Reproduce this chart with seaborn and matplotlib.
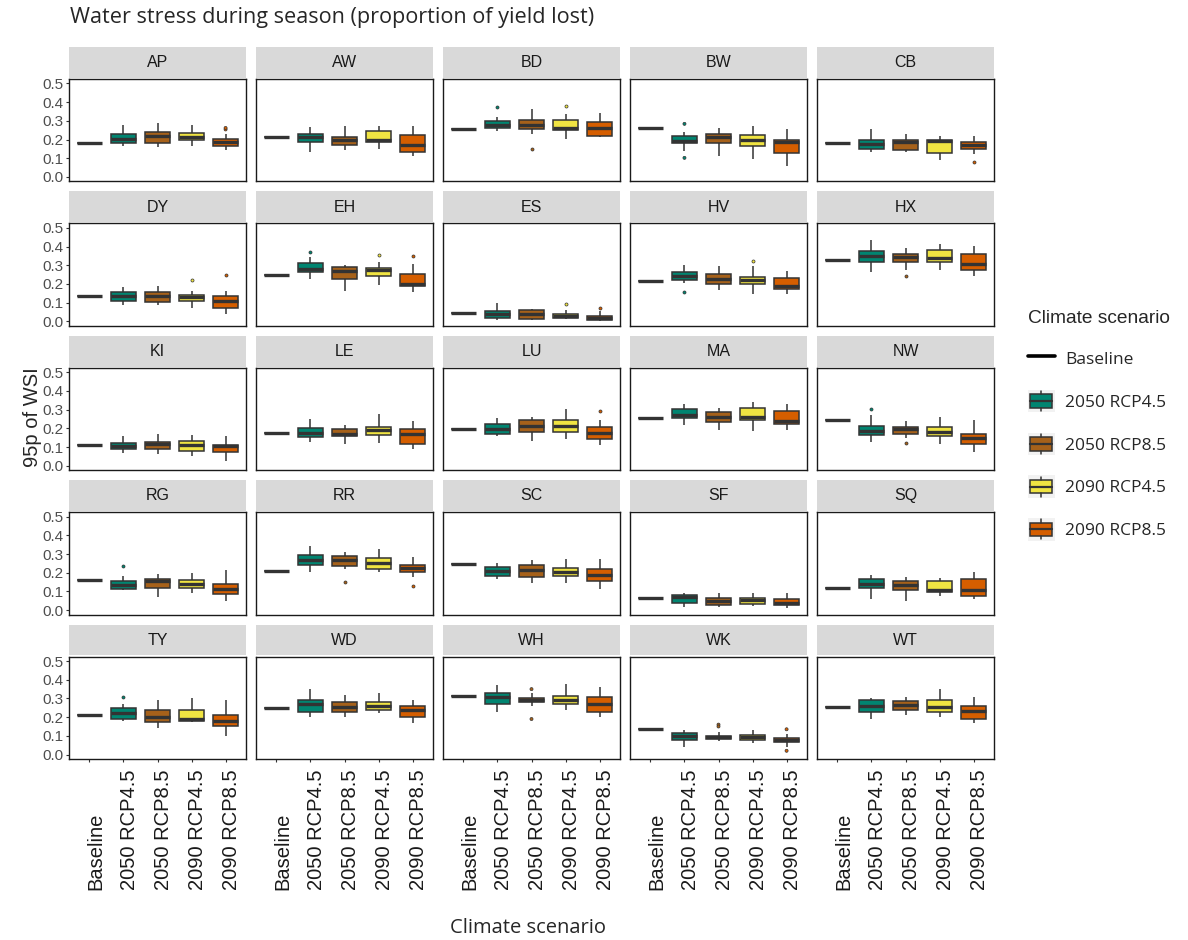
import numpy as np
import pandas as pd
import matplotlib
matplotlib.use('Agg')
import matplotlib.pyplot as plt
import seaborn as sns
from matplotlib.patches import Rectangle, Patch
from matplotlib.lines import Line2D
from matplotlib.legend_handler import HandlerBase
from matplotlib.transforms import ScaledTranslation

# ---- data: 95th percentile of WSI per site and climate scenario ----
sites = ['AP', 'AW', 'BD', 'BW', 'CB',
         'DY', 'EH', 'ES', 'HV', 'HX',
         'KI', 'LE', 'LU', 'MA', 'NW',
         'RG', 'RR', 'SC', 'SF', 'SQ',
         'TY', 'WD', 'WH', 'WK', 'WT']
scenarios = ['Baseline', '2050 RCP4.5', '2050 RCP8.5', '2090 RCP4.5', '2090 RCP8.5']
colors = ['#FFFFFF', '#018571', '#A6611A', '#F0E442', '#D55E00']

baseline = [0.182, 0.211, 0.254, 0.263, 0.179,
            0.137, 0.249, 0.045, 0.217, 0.327,
            0.112, 0.174, 0.196, 0.253, 0.242,
            0.160, 0.208, 0.249, 0.064, 0.116,
            0.212, 0.250, 0.315, 0.135, 0.255]

# (lower whisker, q1, median, q3, upper whisker)
rcp45_2050 = [(0.164, 0.184, 0.202, 0.227, 0.277), (0.132, 0.188, 0.211, 0.232, 0.268),
              (0.246, 0.264, 0.277, 0.300, 0.321), (0.138, 0.180, 0.191, 0.220, 0.238),
              (0.136, 0.148, 0.175, 0.198, 0.254),
              (0.085, 0.110, 0.133, 0.157, 0.183), (0.228, 0.263, 0.281, 0.311, 0.343),
              (0.009, 0.018, 0.040, 0.055, 0.100), (0.205, 0.221, 0.240, 0.262, 0.299),
              (0.263, 0.319, 0.347, 0.374, 0.436),
              (0.068, 0.089, 0.108, 0.121, 0.160), (0.125, 0.153, 0.174, 0.203, 0.249),
              (0.160, 0.169, 0.198, 0.224, 0.254), (0.219, 0.258, 0.272, 0.306, 0.331),
              (0.125, 0.164, 0.187, 0.215, 0.272),
              (0.107, 0.112, 0.137, 0.155, 0.181), (0.205, 0.240, 0.270, 0.294, 0.343),
              (0.165, 0.183, 0.210, 0.231, 0.254), (0.018, 0.036, 0.068, 0.080, 0.094),
              (0.062, 0.117, 0.142, 0.165, 0.187),
              (0.180, 0.190, 0.220, 0.250, 0.270), (0.200, 0.230, 0.270, 0.290, 0.350),
              (0.230, 0.270, 0.310, 0.330, 0.370), (0.040, 0.080, 0.100, 0.115, 0.130),
              (0.190, 0.230, 0.260, 0.290, 0.300)]
rcp85_2050 = [(0.161, 0.179, 0.220, 0.241, 0.286), (0.143, 0.173, 0.200, 0.214, 0.271),
              (0.232, 0.255, 0.277, 0.307, 0.366), (0.111, 0.179, 0.211, 0.230, 0.264),
              (0.136, 0.146, 0.186, 0.198, 0.227),
              (0.085, 0.103, 0.133, 0.157, 0.190), (0.162, 0.228, 0.269, 0.290, 0.304),
              (0.005, 0.014, 0.041, 0.059, 0.064), (0.169, 0.201, 0.228, 0.251, 0.294),
              (0.276, 0.317, 0.343, 0.361, 0.393),
              (0.062, 0.089, 0.117, 0.128, 0.169), (0.116, 0.157, 0.171, 0.196, 0.219),
              (0.130, 0.183, 0.215, 0.246, 0.260), (0.189, 0.235, 0.260, 0.290, 0.311),
              (0.148, 0.171, 0.196, 0.206, 0.240),
              (0.071, 0.119, 0.155, 0.169, 0.192), (0.222, 0.237, 0.270, 0.288, 0.311),
              (0.146, 0.178, 0.214, 0.244, 0.270), (0.018, 0.027, 0.050, 0.066, 0.089),
              (0.050, 0.107, 0.137, 0.155, 0.178),
              (0.140, 0.175, 0.200, 0.240, 0.290), (0.200, 0.230, 0.255, 0.280, 0.320),
              (0.260, 0.280, 0.290, 0.305, 0.330), (0.070, 0.085, 0.095, 0.100, 0.120),
              (0.210, 0.240, 0.265, 0.285, 0.310)]
rcp45_2090 = [(0.164, 0.196, 0.214, 0.234, 0.277), (0.148, 0.188, 0.200, 0.246, 0.275),
              (0.204, 0.250, 0.264, 0.307, 0.336), (0.098, 0.168, 0.196, 0.225, 0.270),
              (0.093, 0.130, 0.191, 0.200, 0.220),
              (0.071, 0.107, 0.130, 0.139, 0.160), (0.196, 0.244, 0.272, 0.285, 0.319),
              (0.011, 0.018, 0.027, 0.037, 0.059), (0.148, 0.198, 0.222, 0.237, 0.294),
              (0.272, 0.317, 0.338, 0.383, 0.415),
              (0.050, 0.080, 0.112, 0.133, 0.162), (0.121, 0.165, 0.192, 0.206, 0.278),
              (0.142, 0.180, 0.210, 0.246, 0.304), (0.185, 0.242, 0.260, 0.310, 0.340),
              (0.117, 0.157, 0.183, 0.205, 0.260),
              (0.093, 0.119, 0.142, 0.160, 0.199), (0.205, 0.222, 0.253, 0.281, 0.327),
              (0.146, 0.181, 0.205, 0.228, 0.276), (0.021, 0.032, 0.053, 0.066, 0.089),
              (0.075, 0.096, 0.110, 0.155, 0.174),
              (0.175, 0.180, 0.190, 0.240, 0.300), (0.220, 0.240, 0.260, 0.280, 0.330),
              (0.240, 0.270, 0.290, 0.315, 0.380), (0.060, 0.080, 0.095, 0.105, 0.130),
              (0.200, 0.230, 0.255, 0.290, 0.350)]
rcp85_2090 = [(0.143, 0.168, 0.188, 0.202, 0.229), (0.111, 0.134, 0.173, 0.223, 0.275),
              (0.211, 0.221, 0.261, 0.295, 0.343), (0.059, 0.130, 0.188, 0.200, 0.257),
              (0.125, 0.148, 0.172, 0.186, 0.220),
              (0.041, 0.073, 0.107, 0.137, 0.162), (0.157, 0.187, 0.201, 0.251, 0.308),
              (0.003, 0.005, 0.018, 0.028, 0.055), (0.144, 0.173, 0.187, 0.231, 0.269),
              (0.242, 0.276, 0.308, 0.361, 0.404),
              (0.023, 0.071, 0.103, 0.112, 0.157), (0.091, 0.116, 0.171, 0.199, 0.237),
              (0.109, 0.144, 0.174, 0.205, 0.242), (0.192, 0.222, 0.237, 0.295, 0.331),
              (0.073, 0.117, 0.148, 0.171, 0.242),
              (0.050, 0.085, 0.112, 0.142, 0.214), (0.178, 0.205, 0.228, 0.244, 0.285),
              (0.112, 0.155, 0.190, 0.222, 0.276), (0.012, 0.027, 0.039, 0.060, 0.089),
              (0.059, 0.077, 0.110, 0.169, 0.205),
              (0.100, 0.150, 0.180, 0.210, 0.290), (0.170, 0.200, 0.240, 0.260, 0.290),
              (0.200, 0.230, 0.270, 0.310, 0.360), (0.040, 0.065, 0.080, 0.090, 0.110),
              (0.170, 0.190, 0.235, 0.260, 0.310)]

outliers = {
    ('AP', '2090 RCP8.5'): [0.254, 0.262],
    ('BD', '2050 RCP4.5'): [0.375],
    ('BD', '2050 RCP8.5'): [0.148],
    ('BD', '2090 RCP4.5'): [0.380],
    ('BW', '2050 RCP4.5'): [0.284, 0.102],
    ('CB', '2090 RCP8.5'): [0.079],
    ('DY', '2090 RCP4.5'): [0.222],
    ('DY', '2090 RCP8.5'): [0.246],
    ('EH', '2050 RCP4.5'): [0.372],
    ('EH', '2090 RCP4.5'): [0.356],
    ('EH', '2090 RCP8.5'): [0.349],
    ('ES', '2090 RCP4.5'): [0.091],
    ('ES', '2090 RCP8.5'): [0.071],
    ('HV', '2050 RCP4.5'): [0.157],
    ('HV', '2090 RCP4.5'): [0.322],
    ('HX', '2050 RCP8.5'): [0.240],
    ('LU', '2090 RCP8.5'): [0.295],
    ('NW', '2050 RCP4.5'): [0.301],
    ('NW', '2050 RCP8.5'): [0.121],
    ('RG', '2050 RCP4.5'): [0.237],
    ('RR', '2050 RCP8.5'): [0.148],
    ('RR', '2090 RCP8.5'): [0.128],
    ('TY', '2050 RCP4.5'): [0.310],
    ('WH', '2050 RCP8.5'): [0.350, 0.190],
    ('WK', '2050 RCP8.5'): [0.160, 0.150],
    ('WK', '2090 RCP8.5'): [0.135, 0.020],
}

# ---- long table: box summaries -> values with the same quartiles ----
rows = []
for i, site in enumerate(sites):
    rows.append((site, 'Baseline', baseline[i]))
    for scen, stats in zip(scenarios[1:], [rcp45_2050, rcp85_2050, rcp45_2090, rcp85_2090]):
        lo, q1, med, q3, hi = stats[i]
        for v in (lo, q1, q1, med, q3, q3, hi):
            rows.append((site, scen, v))
df = pd.DataFrame(rows, columns=['site', 'scenario', 'wsi'])
df_out = pd.DataFrame([(s, c, v) for (s, c), vals in outliers.items() for v in vals],
                      columns=['site', 'scenario', 'wsi'])

palette = dict(zip(scenarios, colors))
line_col = '#333333'

sns.set_theme(style='white')
plt.rcParams['font.family'] = ['Liberation Sans', 'DejaVu Sans']

fig, axes = plt.subplots(5, 5, figsize=(11.88, 9.4), dpi=100)
fig.subplots_adjust(left=69 / 1188, right=994 / 1188, top=1 - 79 / 940,
                    bottom=1 - 759 / 940, wspace=10 / 177, hspace=42 / 102.4)

for k, site in enumerate(sites):
    ax = axes.flat[k]
    r, c = divmod(k, 5)
    sns.boxplot(data=df[df.site == site], x='scenario', y='wsi', hue='scenario',
                order=scenarios, hue_order=scenarios, palette=palette, saturation=1,
                whis=np.inf, width=0.72, linewidth=1.1, linecolor=line_col,
                showcaps=False, showfliers=False, legend=False, ax=ax,
                medianprops={'linewidth': 2.4, 'color': line_col})
    o = df_out[df_out.site == site]
    if len(o):
        sns.stripplot(data=o, x='scenario', y='wsi', hue='scenario', order=scenarios,
                      hue_order=scenarios, palette=palette, jitter=False, size=2.2,
                      linewidth=0.5, edgecolor=line_col, legend=False, ax=ax)
    ax.set_xlim(-0.6, 4.6)
    ax.set_ylim(-0.024, 0.524)
    ax.set_xlabel('')
    ax.set_ylabel('')
    for sp in ax.spines.values():
        sp.set_visible(True)
        sp.set_color('#1A1A1A')
        sp.set_linewidth(1.0)

    # facet strip
    ax.add_patch(Rectangle((0, 1.012), 1, 0.30, transform=ax.transAxes,
                           facecolor='#D9D9D9', edgecolor='none', clip_on=False))
    ax.text(0.5, 1.16, site, transform=ax.transAxes, ha='center', va='center',
            fontsize=11.5, color='#1A1A1A')

    ax.set_yticks([0, 0.1, 0.2, 0.3, 0.4, 0.5])
    if c == 0:
        ax.set_yticklabels(['0.0', '0.1', '0.2', '0.3', '0.4', '0.5'])
        ax.tick_params(axis='y', left=True, length=2.5, width=0.8, color=line_col,
                       labelsize=11, labelcolor='#4D4D4D', pad=1.5)
    else:
        ax.tick_params(axis='y', left=False, labelleft=False)

    ax.set_xticks(range(5))
    if r == 4:
        ax.set_xticklabels(scenarios, rotation=90, ha='center', va='bottom',
                           fontsize=14.5, color='#1A1A1A')
        ax.tick_params(axis='x', bottom=True, length=2.5, width=0.8, color=line_col, pad=92)
        for lbl in ax.get_xticklabels():
            lbl.set_transform(lbl.get_transform() + ScaledTranslation(0.06, 0, fig.dpi_scale_trans))
    else:
        ax.tick_params(axis='x', bottom=False, labelbottom=False)

fig.text(70 / 1188, 1 - 18 / 940, 'Water stress during season (proportion of yield lost)',
         ha='left', va='center', fontsize=15.6, family=['Open Sans', 'DejaVu Sans'])
fig.text(33 / 1188, 1 - 417 / 940, '95p of WSI', rotation=90, ha='center', va='center',
         fontsize=14.5)
fig.text(528 / 1188, 1 - 928 / 940, 'Climate scenario', ha='center', va='center',
         fontsize=14.5, family=['Open Sans', 'DejaVu Sans'])


class BoxKey(HandlerBase):
    def create_artists(self, legend, orig_handle, xdescent, ydescent, width, height,
                       fontsize, trans):
        x0, y0 = -xdescent, -ydescent
        cx = x0 + width / 2
        fc = orig_handle.get_facecolor()
        bg = Rectangle((x0, y0), width, height, facecolor='#F2F2F2', edgecolor='none',
                       transform=trans)
        box = Rectangle((x0 + 0.1 * width, y0 + 0.2 * height), 0.8 * width, 0.6 * height,
                        facecolor=fc, edgecolor=line_col, lw=1.1, transform=trans)
        med = Line2D([x0 + 0.1 * width, x0 + 0.9 * width], [y0 + 0.5 * height] * 2,
                     color=line_col, lw=1.6, transform=trans)
        w1 = Line2D([cx, cx], [y0 + 0.05 * height, y0 + 0.2 * height], color=line_col,
                    lw=1.1, transform=trans)
        w2 = Line2D([cx, cx], [y0 + 0.8 * height, y0 + 0.95 * height], color=line_col,
                    lw=1.1, transform=trans)
        return [bg, box, med, w1, w2]


handles = [Line2D([], [], color='black', lw=2.6)] + \
          [Patch(facecolor=col) for col in colors[1:]]
fig.legend(handles, scenarios, loc='upper left', bbox_to_anchor=(1012 / 1188, 1 - 294 / 940),
           frameon=False, title='Climate scenario', alignment='left',
           handlelength=1.55, handleheight=1.6, labelspacing=1.18, handletextpad=0.62,
           prop={'family': ['Open Sans', 'DejaVu Sans'], 'size': 12.5},
           title_fontproperties={'family': ['Liberation Sans', 'DejaVu Sans'], 'size': 13.8},
           handler_map={Patch: BoxKey()})

fig.savefig('out.png', dpi=100)
